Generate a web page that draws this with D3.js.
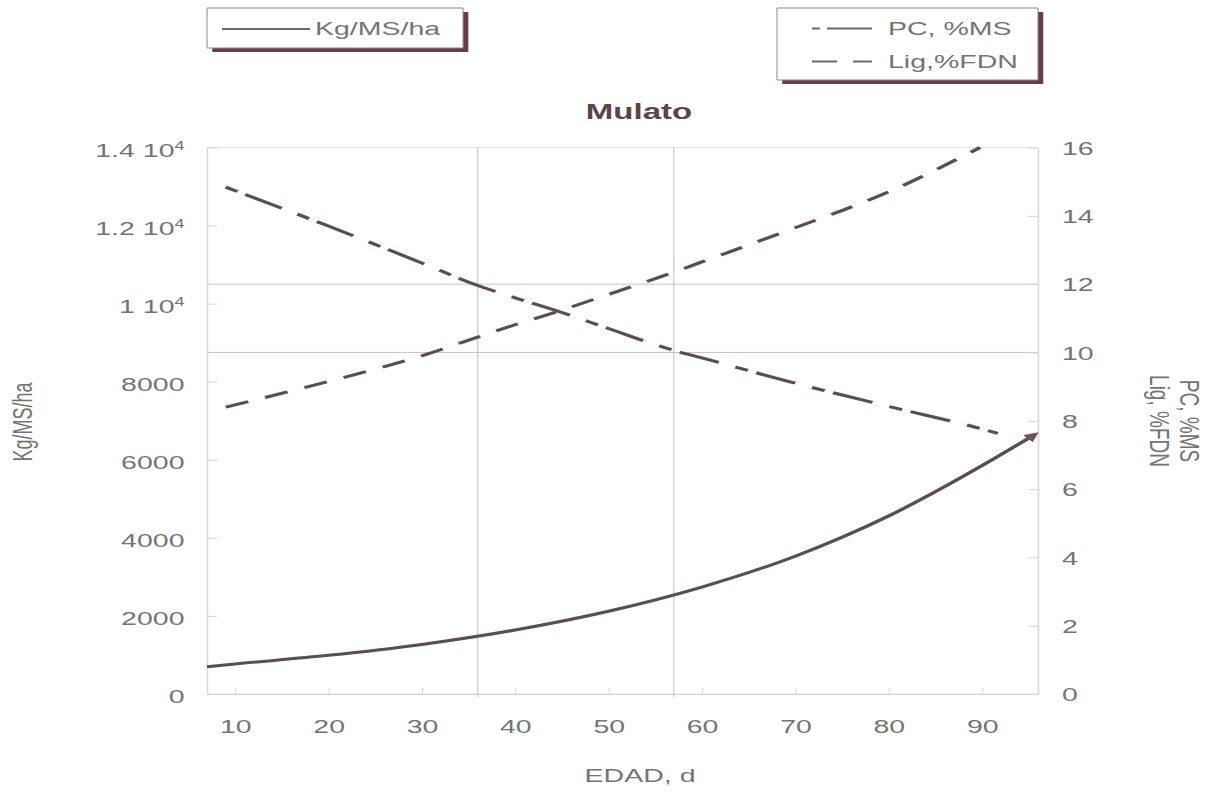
<!DOCTYPE html>
<html><head><meta charset="utf-8">
<script src="https://cdn.jsdelivr.net/npm/d3@7"></script>
<style>html,body{margin:0;padding:0;background:#fff;} svg{display:block;}</style>
</head><body>
<svg id="chart" width="1212" height="793"></svg>
<script>
// ---- data ----
const ageKg = [7, 10, 20, 30, 40, 50, 60, 70, 80, 90, 95.6];
const kgMS  = [700, 770, 990, 1270, 1640, 2120, 2740, 3530, 4560, 5850, 6640];
const agePC = [9, 20, 30, 36, 40, 45, 50, 57, 60, 70, 80, 90, 91.7];
const pcMS  = [14.84, 13.7, 12.62, 11.96, 11.6, 11.17, 10.7, 10.06, 9.84, 9.1, 8.42, 7.76, 7.63];
const ageLig = [9, 20, 30, 36, 40, 45, 50, 57, 60, 70, 80, 89.8];
const ligFDN = [8.4, 9.15, 9.9, 10.45, 10.81, 11.24, 11.7, 12.35, 12.65, 13.65, 14.7, 16.0];
const xTicks = [10, 20, 30, 40, 50, 60, 70, 80, 90];
const leftTicks = [0, 2000, 4000, 6000, 8000, 10000, 12000, 14000];
const leftTickLabels = ["0", "2000", "4000", "6000", "8000", "1 10^4", "1.2 10^4", "1.4 10^4"];
const rightTicks = [0, 2, 4, 6, 8, 10, 12, 14, 16];
const vGridAges = [36, 57];
const hGridRight = [10, 12];
const titleText = "Mulato";
const xTitle = "EDAD, d";
const yLeftTitle = "Kg/MS/ha";
const yRightTitles = ["PC, %MS", "Lig, %FDN"];
const legendLeft = ["Kg/MS/ha"];
const legendRight = ["PC, %MS", "Lig,%FDN"];

// ---- layout (the reference is horizontally stretched) ----
const SX = 1.5;
const W = 1212 / SX, H = 793;
const FONT = "'Liberation Sans', Arial, sans-serif";
const lineColor = "#5e4c55";
const textColor = "#747474";
const svg = d3.select("#chart").attr("viewBox", `0 0 ${W} ${H}`).attr("preserveAspectRatio", "none");

const pL = 138, pR = 692, pT = 147.5, pB = 694;
const x = d3.scaleLinear().domain([7, 96]).range([pL, pR]);
const yL = d3.scaleLinear().domain([0, 14000]).range([pB, pT]);
const yR = d3.scaleLinear().domain([0, 16]).range([pB, pT]);

// frame & grid
const g = svg.append("g");
g.append("rect").attr("x", pL).attr("y", pT).attr("width", pR - pL).attr("height", pB - pT)
  .attr("fill", "none").attr("stroke", "#e4e4e4").attr("stroke-width", 1).attr("vector-effect", "non-scaling-stroke");
g.selectAll(".hg").data(hGridRight).join("line")
  .attr("x1", pL).attr("x2", pR).attr("y1", d => yR(d)).attr("y2", d => yR(d))
  .attr("stroke", "#c6c6c6").attr("stroke-width", 1).attr("vector-effect", "non-scaling-stroke");
g.selectAll(".vg").data(vGridAges).join("line")
  .attr("x1", d => x(d)).attr("x2", d => x(d)).attr("y1", pT).attr("y2", pB + 3)
  .attr("stroke", "#bcbcbc").attr("stroke-width", 1).attr("vector-effect", "non-scaling-stroke");

function styleAxis(sel) {
  sel.selectAll("path.domain").attr("stroke", "#d2d2d2").attr("vector-effect", "non-scaling-stroke");
  sel.selectAll(".tick line").attr("stroke", "#d4d4d4").attr("vector-effect", "non-scaling-stroke");
  sel.selectAll("text").attr("fill", textColor).style("font-family", FONT).style("font-size", "19px");
}

const axL = svg.append("g").attr("transform", `translate(${pL},0)`)
  .call(d3.axisLeft(yL).tickValues(leftTicks).tickSize(-6.7).tickPadding(15).tickSizeOuter(0));
styleAxis(axL);
axL.selectAll(".tick text").each(function (d, i) {
  const t = d3.select(this).text("");
  const parts = leftTickLabels[i].split("^");
  t.append("tspan").text(parts[0]);
  if (parts[1]) t.append("tspan").attr("dy", "-0.55em").style("font-size", "12px").text(parts[1]);
}).attr("dy", "0.45em");

const axR = svg.append("g").attr("transform", `translate(${pR},0)`)
  .call(d3.axisRight(yR).tickValues(rightTicks).tickSize(-6.7).tickPadding(16).tickSizeOuter(0));
styleAxis(axR);
axR.selectAll(".tick text").attr("dy", "0.36em");

const axB = svg.append("g").attr("transform", `translate(0,${pB})`)
  .call(d3.axisBottom(x).tickValues(xTicks).tickSize(-6).tickPadding(26).tickSizeOuter(0));
styleAxis(axB);

// lines
const mk = (xs, ys, ysc) => d3.line().curve(d3.curveMonotoneX).x((d, i) => x(xs[i])).y(d => ysc(d))(ys);

svg.append("defs").append("marker").attr("id", "arr").attr("viewBox", "0 0 10 10")
  .attr("refX", 6).attr("refY", 5).attr("markerWidth", 3.2).attr("markerHeight", 3.2).attr("orient", "auto")
  .append("path").attr("d", "M0,0L10,5L0,10z").attr("fill", "#74505e");

svg.append("path").attr("d", mk(ageLig, ligFDN, yR)).attr("fill", "none")
  .attr("stroke", lineColor).attr("stroke-width", 3).attr("stroke-dasharray", "16,12");
svg.append("path").attr("d", mk(agePC, pcMS, yR)).attr("fill", "none")
  .attr("stroke", lineColor).attr("stroke-width", 3).attr("stroke-dasharray", "9,6,28,12");
svg.append("path").attr("d", mk(ageKg, kgMS, yL)).attr("fill", "none")
  .attr("stroke", lineColor).attr("stroke-width", 3).attr("marker-end", "url(#arr)");

// title & axis titles
svg.append("text").attr("x", 426).attr("y", 119).attr("text-anchor", "middle")
  .style("font-family", FONT).style("font-size", "22px").style("font-weight", "bold").attr("fill", "#5a4450").text(titleText);
svg.append("text").attr("x", 426.7).attr("y", 782).attr("text-anchor", "middle")
  .style("font-family", FONT).style("font-size", "19px").attr("fill", textColor).text(xTitle);
svg.append("text").attr("transform", `translate(21,422) rotate(-90)`).attr("text-anchor", "middle")
  .style("font-family", FONT).style("font-size", "18px").attr("fill", textColor).text(yLeftTitle);
yRightTitles.forEach((t, i) => {
  svg.append("text").attr("transform", `translate(${786.7 - i * 20},421) rotate(90)`).attr("text-anchor", "middle")
    .style("font-family", FONT).style("font-size", "19px").attr("fill", textColor).text(t);
});

// legends
function legendBox(x0, y0, w, h) {
  svg.append("rect").attr("x", x0 + 3.5).attr("y", y0 + 4).attr("width", w).attr("height", h).attr("fill", "#6b3a4c");
  svg.append("rect").attr("x", x0).attr("y", y0).attr("width", w).attr("height", h).attr("fill", "#fff")
    .attr("stroke", "#8a8a8a").attr("stroke-width", 1).attr("vector-effect", "non-scaling-stroke");
}
legendBox(138, 8, 170.7, 40);
svg.append("line").attr("x1", 148).attr("x2", 206.7).attr("y1", 29).attr("y2", 29).attr("stroke", "#6a6a6a").attr("stroke-width", 2.2);
svg.append("text").attr("x", 210).attr("y", 35.5).style("font-family", FONT).style("font-size", "19px").attr("fill", textColor).text(legendLeft[0]);

legendBox(518, 8, 174, 72);
svg.append("line").attr("x1", 541.3).attr("x2", 581.3).attr("y1", 28.5).attr("y2", 28.5).attr("stroke", "#6a6a6a")
  .attr("stroke-width", 2.2).attr("stroke-dasharray", "5.3,4.7,30");
svg.append("line").attr("x1", 541.3).attr("x2", 581.3).attr("y1", 61.5).attr("y2", 61.5).attr("stroke", "#6a6a6a")
  .attr("stroke-width", 2.2).attr("stroke-dasharray", "16.7,10.7,13");
legendRight.forEach((t, i) => {
  svg.append("text").attr("x", 592).attr("y", 35.5 + i * 33).style("font-family", FONT).style("font-size", "19px").attr("fill", textColor).text(t);
});
</script>
</body></html>
